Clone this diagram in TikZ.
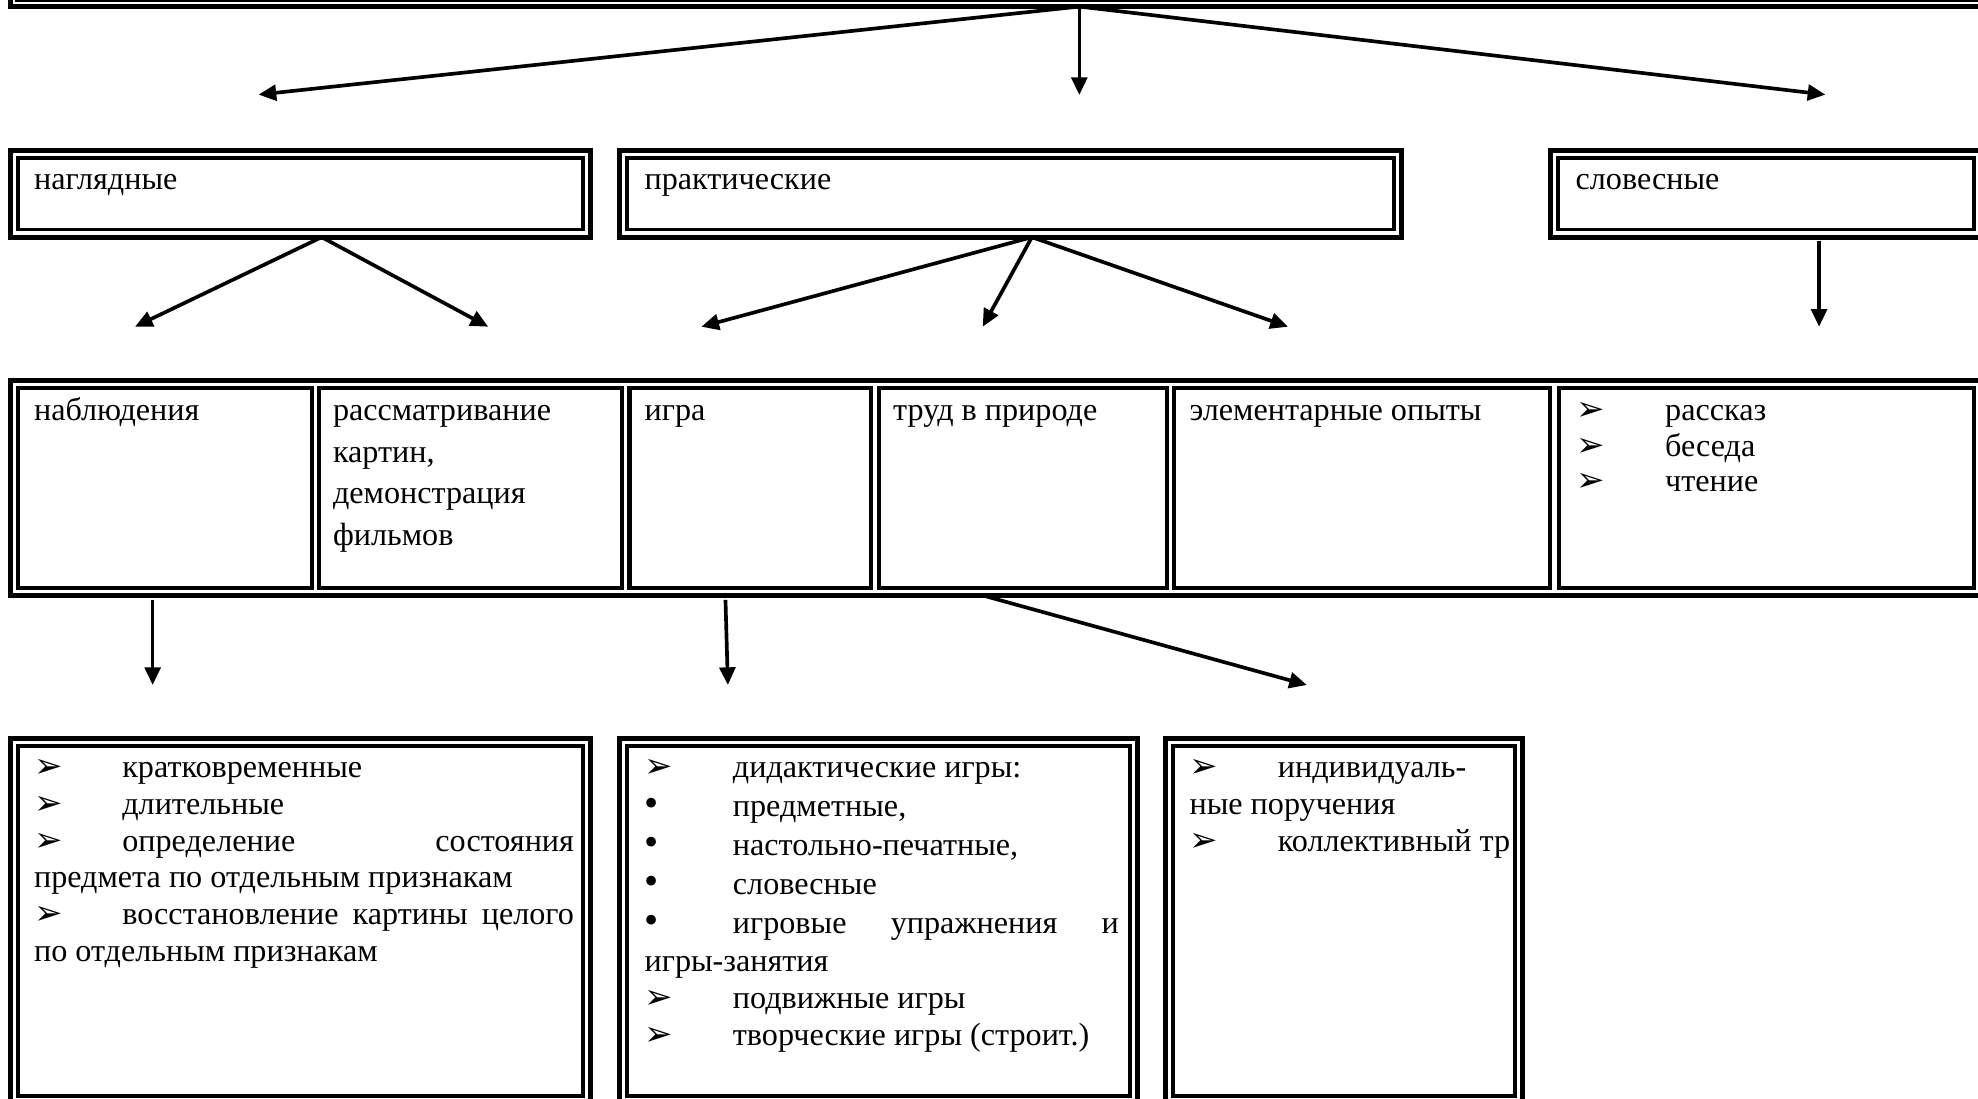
\documentclass[tikz,border=0pt]{standalone}
\usepackage{fontspec}
\setmainfont{Liberation Serif}
\newfontfamily\djv{DejaVu Sans}
\usetikzlibrary{arrows.meta,fit}
\newcommand\myarw{\makebox[70pt][l]{\djv\fontsize{27}{27}\selectfont ➢}}
\newcommand\mybul{\makebox[70pt][l]{\fontsize{32}{32}\selectfont •}}
\newcommand\tbox[3]{\parbox[t]{#1}{\raggedright\fontsize{25.5}{#2}\selectfont #3}}
\newcommand\dblbox[5]{\node[obox,fit={(#2,#3)(#4,#5)}] (#1) {};
  \draw[iline] ([xshift=6pt,yshift=-6pt]#1.north west) rectangle ([xshift=-6pt,yshift=6pt]#1.south east);}
\tikzset{
  obox/.style={draw,line width=4pt,inner sep=0pt,outer sep=0pt},
  iline/.style={line width=3pt},
  cellbox/.style={draw,line width=3.2pt,inner sep=0pt,outer sep=0pt},
  arr/.style={line width=2.9pt,-{Triangle[length=14pt,width=12.5pt]}},
  txt/.style={anchor=base west,inner sep=0pt,outer sep=0pt,font=\fontsize{25.5}{29.3}\selectfont},
}
\begin{document}
\begin{tikzpicture}[x=1pt,y=-1pt]
\useasboundingbox (0,0) rectangle (1568,871);
\clip (0,0) rectangle (1568,871);
% top box (only its lower edge is visible)
\node[draw,line width=4.2pt,inner sep=0pt,outer sep=0pt,fit={(8.3,-60)(1600,5.2)}] (top) {};
\draw[line width=1.4pt] ([xshift=4pt,yshift=-4.6pt]top.north west) rectangle ([xshift=-4pt,yshift=4.6pt]top.south east);
% row 2
\dblbox{nag}{8}{119.5}{468}{188}
\dblbox{prak}{491}{119.5}{1111}{188}
\dblbox{slov}{1229}{119.5}{1571}{188}
% row 3
\node[obox,fit={(8,301.5)(1571,472)}] (row3) {};
\node[cellbox,fit={(14,307.5)(247,466)}] (c1) {};
\node[cellbox,fit={(253,307.5)(493,466)}] (c2) {};
\node[cellbox,fit={(499,307.5)(690.5,466)}] (c3) {};
\node[cellbox,fit={(696.5,307.5)(925,466)}] (c4) {};
\node[cellbox,fit={(931,307.5)(1229,466)}] (c5) {};
\node[cellbox,fit={(1235.5,307.5)(1565,466)}] (c6) {};
% row 4
\dblbox{b1}{8}{585.5}{468}{875}
\dblbox{b2}{491}{585.5}{902}{875}
\dblbox{b3}{924}{585.5}{1207}{875}
% texts row 2
\node[txt] (tnag) at (27,150) {наглядные};
\node[txt] (tprak) at (511,150) {практические};
\node[txt] (tslov) at (1249,150) {словесные};
% texts row 3
\node[txt] (t1) at (27,333.5) {наблюдения};
\node[txt] (t2) at (264,333.5) {\tbox{225pt}{33pt}{рассматривание\\ картин,\\ демонстрация\\ фильмов}};
\node[txt] (t3) at (511,333.5) {игра};
\node[txt] (t4) at (708,333.5) {труд в природе};
\node[txt] (t5) at (943,333.5) {элементарные опыты};
\node[txt] (t6) at (1250,333) {\tbox{300pt}{28.5pt}{\myarw рассказ\\ \myarw беседа\\ \myarw чтение}};
% texts row 4
\node[txt] (t7) at (27,616) {\tbox{428pt}{29.3pt}{%
\myarw кратковременные\\
\myarw длительные\\
\makebox[428pt][s]{\myarw определение состояния}\\
предмета по отдельным признакам\\
\makebox[428pt][s]{\myarw восстановление картины целого}\\
по отдельным признакам}};
\node[txt] (t8) at (511,616) {\tbox{376pt}{29.3pt}{%
\myarw дидактические игры:\\[1.7pt]
\mybul предметные,\\[1.7pt]
\mybul настольно-печатные,\\[1.7pt]
\mybul словесные\\[1.7pt]
\makebox[376pt][s]{\mybul игровые упражнения и}\\[0.7pt]
игры-занятия\\
\myarw подвижные игры\\
\myarw творческие игры (строит.)}};
\begin{scope}
\clip ([xshift=6pt,yshift=-6pt]b3.north west) rectangle ([xshift=-6pt,yshift=6pt]b3.south east);
\node[txt] (t9) at (943,616) {\tbox{400pt}{29.5pt}{%
\myarw индивидуаль-\\
ные поручения\\
\myarw коллективный тр}};
\end{scope}
% connector coordinates
\coordinate (xa) at (855.6,0);
\coordinate (xb) at (255,0);
\coordinate (xc) at (818,0);
\coordinate (xd) at (1442,0);
\coordinate (xe) at (121,0);
\coordinate (xf) at (575,0);
\coordinate (xg) at (779,0);
\coordinate (ea) at (205,75);
\coordinate (eb) at (855.6,75.3);
\coordinate (ec) at (1447,75);
\coordinate (ed) at (107,259);
\coordinate (ee) at (387,259);
\coordinate (ef) at (556,259);
\coordinate (eg) at (779,259);
\coordinate (eh) at (1021,259);
\coordinate (ei) at (1442,259);
\coordinate (ej) at (121,543);
\coordinate (ek) at (577,543);
\coordinate (el) at (1036,543);
% connectors
\draw[arr] (xa |- top.south) -- (ea);
\draw[arr] (xa |- top.south) -- (eb);
\draw[arr] (xa |- top.south) -- (ec);
\draw[arr] (xb |- nag.south) -- (ed);
\draw[arr] (xb |- nag.south) -- (ee);
\draw[arr] (xc |- prak.south) -- (ef);
\draw[arr] (xc |- prak.south) -- (eg);
\draw[arr] (xc |- prak.south) -- (eh);
\draw[arr,shorten <=3pt] (xd |- slov.south) -- (ei);
\draw[arr,shorten <=3.5pt] (xe |- row3.south) -- (ej);
\draw[arr,shorten <=3.5pt] (xf |- row3.south) -- (ek);
\draw[arr,shorten <=2.5pt] (xg |- row3.south) -- (el);
\end{tikzpicture}
\end{document}
